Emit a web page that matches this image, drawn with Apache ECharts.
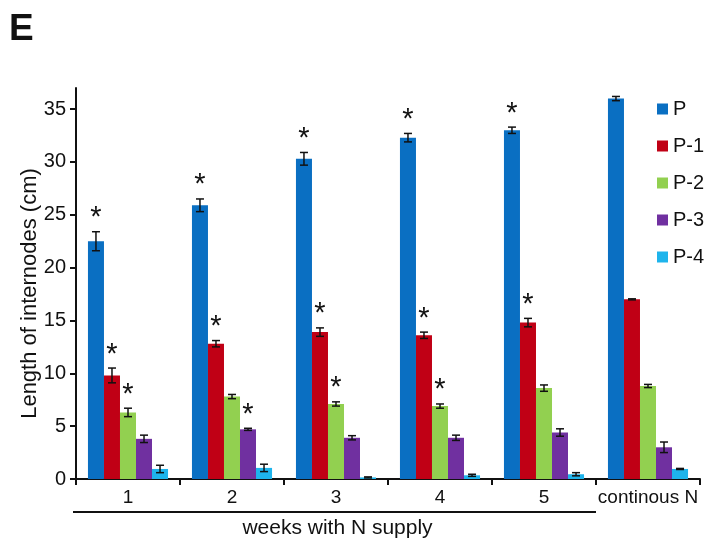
<!DOCTYPE html>
<html>
<head>
<meta charset="utf-8">
<script src="https://cdn.jsdelivr.net/npm/echarts@6/dist/echarts.min.js"></script>
<style>html,body{margin:0;padding:0;background:#fff;}#c{width:710px;height:540px;}</style>
</head>
<body>
<div id="c"></div>
<script>
const categories = ['1', '2', '3', '4', '5', 'continous N'];
const seriesNames = ['P', 'P-1', 'P-2', 'P-3', 'P-4'];
const valP  = [22.5, 25.9, 30.3, 32.3, 33.0, 36.0];
const errP  = [0.9, 0.6, 0.6, 0.4, 0.3, 0.2];
const valP1 = [9.8, 12.8, 13.9, 13.6, 14.8, 17.0];
const errP1 = [0.7, 0.3, 0.4, 0.3, 0.4, 0.05];
const valP2 = [6.3, 7.8, 7.1, 6.9, 8.6, 8.8];
const errP2 = [0.4, 0.2, 0.2, 0.2, 0.3, 0.15];
const valP3 = [3.8, 4.7, 3.9, 3.9, 4.4, 3.0];
const errP3 = [0.35, 0.1, 0.2, 0.25, 0.35, 0.5];
const valP4 = [0.95, 1.05, 0.15, 0.35, 0.45, 0.95];
const errP4 = [0.35, 0.35, 0.05, 0.1, 0.15, 0.05];
const starP  = [1, 1, 1, 1, 1, 0];
const starP1 = [1, 1, 1, 1, 1, 0];
const starP2 = [1, 0, 1, 1, 0, 0];
const starP3 = [0, 1, 0, 0, 0, 0];
const starP4 = [0, 0, 0, 0, 0, 0];
const yTicks = [0, 5, 10, 15, 20, 25, 30, 35];
const xTitle = 'weeks with N supply';
const yTitle = 'Length of internodes (cm)';
const panelLabel = 'E';

const colors = ['#0A6FC2', '#C00015', '#92D050', '#7030A0', '#1EB4EC'];
const vals = [valP, valP1, valP2, valP3, valP4];
const errs = [errP, errP1, errP2, errP3, errP4];
const stars = [starP, starP1, starP2, starP3, starP4];
const FONT = 'Liberation Sans, Arial, sans-serif';
const CAT_GAP = 0.23;

const errData = [];
for (let s = 0; s < vals.length; s++) {
  for (let c = 0; c < categories.length; c++) {
    errData.push([c, s, vals[s][c], errs[s][c], stars[s][c]]);
  }
}

const chart = echarts.init(document.getElementById('c'), null, {renderer: 'canvas'});

const barSeries = seriesNames.map((n, i) => ({
  name: n,
  type: 'bar',
  data: vals[i],
  barGap: '0%',
  barCategoryGap: (CAT_GAP * 100) + '%',
  itemStyle: {color: colors[i]},
  emphasis: {disabled: true},
  z: 2
}));

const errSeries = {
  type: 'custom',
  name: 'err',
  data: errData,
  encode: {x: 0, y: 2},
  z: 5,
  silent: true,
  renderItem: function (params, api) {
    const c = api.value(0), s = api.value(1), v = api.value(2), e = api.value(3), st = api.value(4);
    const center = api.coord([c, 0])[0];
    const band = api.size([1, 0])[0];
    const bw = band * (1 - CAT_GAP) / seriesNames.length;
    const x = center + (s - (seriesNames.length - 1) / 2) * bw;
    const yt = api.coord([c, v + e])[1];
    const yb = api.coord([c, Math.max(0, v - e)])[1];
    const cap = 4;
    const st1 = {stroke: '#111', lineWidth: 1.5};
    const children = [
      {type: 'line', shape: {x1: x, y1: yt, x2: x, y2: yb}, style: st1},
      {type: 'line', shape: {x1: x - cap, y1: yt, x2: x + cap, y2: yt}, style: st1},
      {type: 'line', shape: {x1: x - cap, y1: yb, x2: x + cap, y2: yb}, style: st1}
    ];
    if (st) {
      children.push({type: 'text', style: {text: '*', x: x, y: yt + 1, align: 'center', verticalAlign: 'bottom', font: '29px ' + FONT, fill: '#111'}});
    }
    return {type: 'group', children: children};
  }
};

chart.setOption({
  animation: false,
  backgroundColor: '#fff',
  textStyle: {fontFamily: FONT},
  title: {text: panelLabel, left: 4, top: 6, textStyle: {fontSize: 37, fontWeight: 'bold', color: '#111', fontFamily: FONT}},
  grid: {left: 76, right: 10, top: 88, bottom: 61, containLabel: false},
  legend: {
    data: seriesNames,
    orient: 'vertical',
    left: 652, top: 94,
    itemWidth: 11, itemHeight: 11, itemGap: 17,
    icon: 'rect',
    textStyle: {fontSize: 20, color: '#111', fontFamily: FONT, padding: [0, 0, 0, 0]}
  },
  xAxis: {
    type: 'category',
    data: categories,
    axisLine: {lineStyle: {color: '#111', width: 2}},
    axisTick: {show: true, alignWithLabel: false, length: 6, lineStyle: {color: '#111', width: 2}},
    axisLabel: {fontSize: 19, color: '#111', margin: 9, fontFamily: FONT, interval: 0},
    splitLine: {show: false}
  },
  yAxis: {
    type: 'value',
    min: 0, max: 37, interval: 5,
    name: yTitle,
    nameLocation: 'middle',
    nameGap: 35,
    nameMoveOverlap: false,
    nameTextStyle: {fontSize: 22, color: '#111', fontFamily: FONT, padding: [0, 20, 0, 0]},
    axisLine: {show: true, lineStyle: {color: '#111', width: 2}},
    axisTick: {show: true, length: 6, lineStyle: {color: '#111', width: 2}, customValues: yTicks},
    axisLabel: {fontSize: 20, color: '#111', margin: 10, fontFamily: FONT, customValues: yTicks},
    splitLine: {show: false}
  },
  series: barSeries.concat([errSeries])
});

// bracket line under weekly categories + group title
const c0 = chart.convertToPixel({xAxisIndex: 0}, 0);
const c1 = chart.convertToPixel({xAxisIndex: 0}, 1);
const c4 = chart.convertToPixel({xAxisIndex: 0}, 4);
const band = c1 - c0;
const xl = c0 - band / 2 - 3;
const xr = c4 + band / 2;
chart.setOption({
  graphic: [
    {type: 'line', shape: {x1: xl, y1: 512, x2: xr, y2: 512}, style: {stroke: '#111', lineWidth: 2}},
    {type: 'text', x: (xl + xr) / 2 + 3, y: 528, style: {text: xTitle, align: 'center', verticalAlign: 'middle', font: '21px ' + FONT, fill: '#111'}}
  ]
});
</script>
</body>
</html>
